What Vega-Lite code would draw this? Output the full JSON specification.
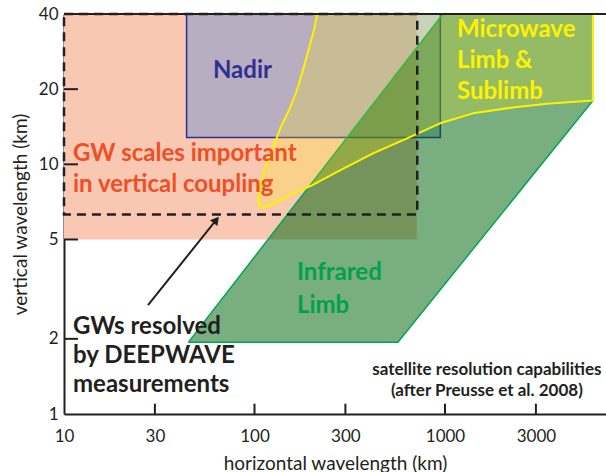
{
  "$schema": "https://vega.github.io/schema/vega-lite/v6.json",
  "width": 542,
  "height": 400,
  "autosize": {"type": "none"},
  "padding": {"left": 64, "top": 14, "right": 0, "bottom": 58},
  "background": "white",
  "config": {
    "view": {"stroke": null},
    "font": "Lato",
    "axis": {
      "grid": false,
      "ticks": false,
      "domainColor": "#231F20",
      "domainWidth": 2,
      "labelFont": "Lato",
      "labelFontSize": 17,
      "labelColor": "#231F20",
      "labelFlush": false,
      "labelOverlap": false,
      "titleFont": "Lato",
      "titleFontSize": 19,
      "titleFontWeight": "normal",
      "titleColor": "#231F20"
    }
  },
  "datasets": {
    "microwave": [
      {"o": 1, "x": 213, "y": 40},
      {"o": 2, "x": 206, "y": 35},
      {"o": 3, "x": 194, "y": 29.5},
      {"o": 4, "x": 180, "y": 24},
      {"o": 5, "x": 167, "y": 19.8},
      {"o": 6, "x": 152, "y": 16.5},
      {"o": 7, "x": 138, "y": 14.2},
      {"o": 8, "x": 125, "y": 11.7},
      {"o": 9, "x": 111, "y": 9.2},
      {"o": 10, "x": 104, "y": 7.38},
      {"o": 11, "x": 105.5, "y": 6.92},
      {"o": 12, "x": 109, "y": 6.67},
      {"o": 13, "x": 117, "y": 6.76},
      {"o": 14, "x": 135, "y": 7.1},
      {"o": 15, "x": 154, "y": 7.52},
      {"o": 16, "x": 200, "y": 8.24},
      {"o": 17, "x": 281, "y": 9.46},
      {"o": 18, "x": 419, "y": 11.07},
      {"o": 19, "x": 632, "y": 12.7},
      {"o": 20, "x": 942, "y": 14.6},
      {"o": 21, "x": 1403, "y": 16.0},
      {"o": 22, "x": 2275, "y": 16.9},
      {"o": 23, "x": 3430, "y": 17.5},
      {"o": 24, "x": 5980, "y": 18.0},
      {"o": 25, "x": 5980, "y": 40},
      {"o": 26, "x": 213, "y": 40}
    ],
    "infrared": [
      {"o": 1, "x": 45, "y": 1.94},
      {"o": 2, "x": 975, "y": 40},
      {"o": 3, "x": 5980, "y": 40},
      {"o": 4, "x": 5980, "y": 18},
      {"o": 5, "x": 566, "y": 1.94},
      {"o": 6, "x": 45, "y": 1.94}
    ]
  },
  "layer": [
    {
      "data": {"values": [{"x": 10, "x2": 710, "y": 5, "y2": 40}]},
      "mark": {"type": "rect", "fill": "#F9C8B3", "strokeWidth": 0},
      "encoding": {
        "x": {"field": "x", "type": "quantitative",
              "scale": {"type": "log", "domain": [10, 7000], "nice": false},
              "axis": {"values": [10, 30, 100, 300, 1000, 3000], "format": "d", "labelPadding": 14, "titlePadding": 10, "title": "horizontal wavelength (km)"}},
        "x2": {"field": "x2"},
        "y": {"field": "y", "type": "quantitative",
              "scale": {"type": "log", "domain": [1, 40], "nice": false},
              "axis": {"values": [1, 2, 5, 10, 20, 40], "format": "d", "labelPadding": 6, "titlePadding": 8, "title": "vertical wavelength (km)"}},
        "y2": {"field": "y2"}
      }
    },
    {
      "data": {"values": [{"x": 44, "x2": 945, "y": 12.8, "y2": 40}]},
      "mark": {"type": "rect", "fill": "#698CD2", "fillOpacity": 0.45, "stroke": "#2E3192", "strokeWidth": 1.5},
      "encoding": {
        "x": {"field": "x", "type": "quantitative"},
        "x2": {"field": "x2"},
        "y": {"field": "y", "type": "quantitative"},
        "y2": {"field": "y2"}
      }
    },
    {
      "data": {"name": "infrared"},
      "mark": {"type": "line", "fill": "#00660F", "fillOpacity": 0.53, "stroke": "#00A651", "strokeWidth": 1.5},
      "encoding": {
        "x": {"field": "x", "type": "quantitative"},
        "y": {"field": "y", "type": "quantitative"},
        "order": {"field": "o", "type": "quantitative"}
      }
    },
    {
      "data": {"name": "microwave"},
      "mark": {"type": "line", "fill": "#FFF200", "fillOpacity": 0.22, "stroke": "#FFF200", "strokeWidth": 2, "strokeJoin": "round", "interpolate": "linear"},
      "encoding": {
        "x": {"field": "x", "type": "quantitative"},
        "y": {"field": "y", "type": "quantitative"},
        "order": {"field": "o", "type": "quantitative"}
      }
    },
    {
      "data": {"values": [{"x": 10, "x2": 715, "y": 6.3, "y2": 40}]},
      "mark": {"type": "rect", "filled": false, "fill": null, "stroke": "#231F20", "strokeWidth": 2.5, "strokeDash": [9, 6]},
      "encoding": {
        "x": {"field": "x", "type": "quantitative"},
        "x2": {"field": "x2"},
        "y": {"field": "y", "type": "quantitative"},
        "y2": {"field": "y2"}
      }
    },
    {
      "data": {"values": [{"x": 10, "x2": 7000, "y": 40}]},
      "mark": {"type": "rule", "stroke": "#231F20", "strokeWidth": 2},
      "encoding": {
        "x": {"field": "x", "type": "quantitative"},
        "x2": {"field": "x2"},
        "y": {"field": "y", "type": "quantitative"}
      }
    },
    {
      "data": {"values": [{"v": 2}, {"v": 5}, {"v": 10}, {"v": 20}]},
      "mark": {"type": "rule", "stroke": "#231F20", "strokeWidth": 2},
      "encoding": {
        "x": {"datum": 10, "type": "quantitative"},
        "x2": {"datum": 11.84},
        "y": {"field": "v", "type": "quantitative"}
      }
    },
    {
      "data": {"values": [{"v": 30}, {"v": 100}, {"v": 300}, {"v": 1000}, {"v": 3000}]},
      "mark": {"type": "rule", "stroke": "#231F20", "strokeWidth": 2},
      "encoding": {
        "x": {"field": "v", "type": "quantitative"},
        "y": {"datum": 1, "type": "quantitative"},
        "y2": {"datum": 1.1}
      }
    },
    {
      "data": {"values": [{"o": 1, "x": 27.6, "y": 2.73}, {"o": 2, "x": 63, "y": 5.99}]},
      "mark": {"type": "line", "stroke": "#231F20", "strokeWidth": 2},
      "encoding": {
        "x": {"field": "x", "type": "quantitative"},
        "y": {"field": "y", "type": "quantitative"},
        "order": {"field": "o", "type": "quantitative"}
      }
    },
    {
      "data": {"values": [{"x": 63, "y": 5.99}]},
      "mark": {"type": "point", "shape": "triangle-up", "filled": true, "fill": "#231F20", "size": 90, "angle": 38.7, "opacity": 1},
      "encoding": {
        "x": {"field": "x", "type": "quantitative"},
        "y": {"field": "y", "type": "quantitative"}
      }
    },
    {
      "data": {"values": [{"x": 60.5, "y": 22.1, "t": "Nadir"}]},
      "mark": {"type": "text", "font": "Lato", "fontWeight": "bold", "fontSize": 24, "fill": "#2E3192", "align": "left", "baseline": "alphabetic"},
      "encoding": {
        "x": {"field": "x", "type": "quantitative"},
        "y": {"field": "y", "type": "quantitative"},
        "text": {"field": "t"}
      }
    },
    {
      "data": {"values": [{"x": 1156, "y": 32.5, "t": "Microwave\nLimb &\nSublimb"}]},
      "mark": {"type": "text", "font": "Lato", "fontWeight": "bold", "fontSize": 24, "fill": "#FFF200", "align": "left", "baseline": "alphabetic", "lineBreak": "\n", "lineHeight": 31},
      "encoding": {
        "x": {"field": "x", "type": "quantitative"},
        "y": {"field": "y", "type": "quantitative"},
        "text": {"field": "t"}
      }
    },
    {
      "data": {"values": [{"x": 11.15, "y": 10.28, "t": "GW scales important\nin vertical coupling"}]},
      "mark": {"type": "text", "font": "Lato", "fontWeight": "bold", "fontSize": 24, "fill": "#F04E23", "align": "left", "baseline": "alphabetic", "lineBreak": "\n", "lineHeight": 31},
      "encoding": {
        "x": {"field": "x", "type": "quantitative"},
        "y": {"field": "y", "type": "quantitative"},
        "text": {"field": "t"}
      }
    },
    {
      "data": {"values": [{"x": 167, "y": 3.44, "t": "Infrared\nLimb"}]},
      "mark": {"type": "text", "font": "Lato", "fontWeight": "bold", "fontSize": 24, "fill": "#00A14B", "align": "left", "baseline": "alphabetic", "lineBreak": "\n", "lineHeight": 33},
      "encoding": {
        "x": {"field": "x", "type": "quantitative"},
        "y": {"field": "y", "type": "quantitative"},
        "text": {"field": "t"}
      }
    },
    {
      "data": {"values": [{"x": 11.15, "y": 2.09, "t": "GWs resolved\nby DEEPWAVE\nmeasurements"}]},
      "mark": {"type": "text", "font": "Lato", "fontWeight": "bold", "fontSize": 24, "fill": "#231F20", "align": "left", "baseline": "alphabetic", "lineBreak": "\n", "lineHeight": 29},
      "encoding": {
        "x": {"field": "x", "type": "quantitative"},
        "y": {"field": "y", "type": "quantitative"},
        "text": {"field": "t"}
      }
    },
    {
      "data": {"values": [{"x": 1660, "y": 1.43, "t": "satellite resolution capabilities\n(after Preusse et al. 2008)"}]},
      "mark": {"type": "text", "font": "Lato", "fontWeight": "bold", "fontSize": 17, "fill": "#231F20", "align": "center", "baseline": "alphabetic", "lineBreak": "\n", "lineHeight": 21},
      "encoding": {
        "x": {"field": "x", "type": "quantitative"},
        "y": {"field": "y", "type": "quantitative"},
        "text": {"field": "t"}
      }
    }
  ]
}
